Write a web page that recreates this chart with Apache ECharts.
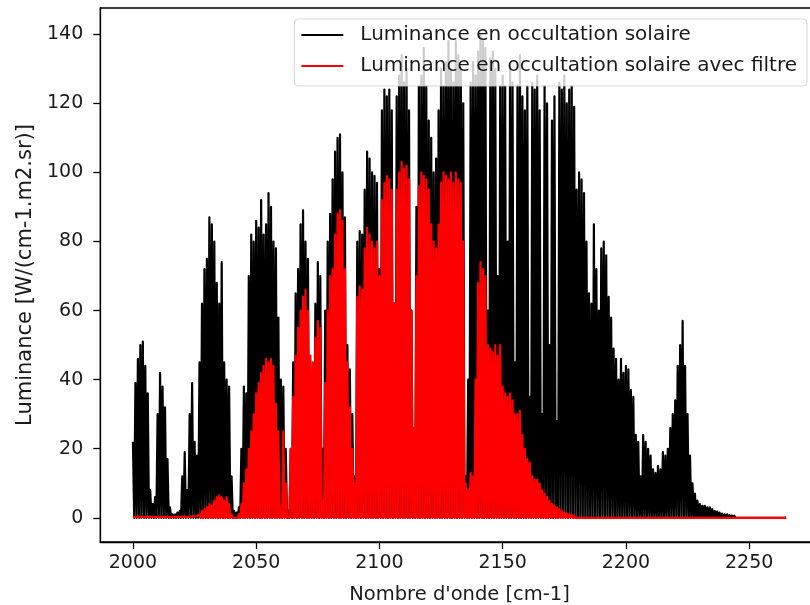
<!DOCTYPE html>
<html>
<head>
<meta charset="utf-8">
<title>Luminance en occultation solaire</title>
<script src="https://cdn.jsdelivr.net/npm/echarts@6/dist/echarts.min.js"></script>
<style>
  html, body { margin: 0; padding: 0; background: #ffffff; }
  #chart { width: 810px; height: 605px; }
</style>
</head>
<body>
<div id="chart"></div>
<script>
// Wavenumber grid: one line peak per cm-1, starting at 2000 cm-1
const startWavenumber = 2000;
// Level reached between two neighbouring lines (saturated line cores)
const lineFloor = 0;

// Peak luminance of the unfiltered spectrum, 2000 .. 2265 cm-1
const luminancePeaks = [
  22, 39, 46, 50, 51, 44, 36, 8, 4, 6,            // 2000
  30, 42, 38, 32, 17, 3, 1, 1, 1.5, 2,            // 2010
  12, 19, 8, 30, 39, 22, 18, 45, 62, 72,          // 2020
  75, 87, 85, 80, 68, 62, 74, 45, 40, 38,         // 2030
  12, 2, 1.5, 3, 20, 38, 36, 70, 82, 80,          // 2040
  86, 84, 92, 82, 85, 94, 90, 80, 78, 58,         // 2050
  40, 38, 20, 2, 20, 45, 65, 72, 85, 89,          // 2060
  80, 75, 44, 20, 62, 74, 70, 20, 60, 80,         // 2070
  88, 98, 106, 110, 111, 100, 87, 50, 43, 30,     // 2080
  12, 80, 83, 82, 95, 106, 104, 100, 99, 97,      // 2090
  72, 118, 124, 122, 124, 118, 62, 122, 128, 134, // 2100
  126, 130, 118, 60, 26, 90, 125, 128, 136, 125,  // 2110
  115, 110, 100, 104, 118, 130, 125, 132, 138, 130, // 2120
  126, 138, 134, 130, 120, 12, 40, 126, 132, 128, // 2130
  135, 140, 138, 136, 60, 133, 135, 130, 70, 125, // 2140
  128, 125, 80, 130, 126, 45, 125, 134, 122, 118, // 2150
  125, 35, 126, 124, 128, 118, 30, 125, 120, 50,  // 2160
  115, 122, 28, 126, 124, 128, 120, 124, 125, 119, // 2170
  95, 100, 98, 94, 80, 65, 62, 85, 72, 60,        // 2180
  78, 80, 76, 64, 58, 49, 46, 40, 46, 42,         // 2190
  44, 43, 37, 35, 24, 22, 12, 24, 22, 20,         // 2200
  18, 14, 13, 15, 14, 19, 18, 20, 26, 30,         // 2210
  34, 44, 50, 57, 44, 30, 18, 10, 7, 5,           // 2220
  4, 3.5, 3.5, 3, 3, 2.5, 2, 1.8, 1.5, 1.2,       // 2230
  1, 1, 0.8, 0.7, 0.6, 0.5, 0.5, 0.4, 0.3, 0.3,   // 2240
  0.2, 0.2, 0.2, 0.2, 0.2, 0.1, 0.1, 0.1, 0.1, 0.1, // 2250
  0.1, 0.1, 0.1, 0.1, 0.1, 0.1                    // 2260
];

// Peak luminance of the filtered spectrum, 2000 .. 2265 cm-1
const filteredPeaks = [
  0.3, 0.2, 0.3, 0.2, 0.3, 0.2, 0.3, 0.2, 0.3, 0.2, // 2000
  0.3, 0.2, 0.3, 0.2, 0.3, 0.2, 0.3, 0.2, 0.3, 0.3, // 2010
  0.3, 0.3, 0.3, 0.3, 0.4, 0.4, 0.5, 1, 2, 2.5,   // 2020
  3, 4, 3.5, 5, 6, 6.5, 6, 5, 6, 4,               // 2030
  1, 0.5, 0.3, 1, 4, 10, 14, 20, 25, 30,          // 2040
  36, 39, 42, 44, 46, 45, 46, 44, 33, 25,         // 2050
  3, 25, 10, 0.5, 20, 35, 47, 55, 60, 64,         // 2060
  66, 60, 47, 45, 52, 57, 55, 5, 39, 60,          // 2070
  70, 72, 82, 88, 89, 86, 72, 45, 32, 20,         // 2080
  10, 64, 67, 66, 78, 84, 82, 80, 78, 80,         // 2090
  70, 92, 97, 99, 98, 95, 62, 95, 100, 103,       // 2100
  101, 102, 98, 60, 26, 70, 96, 100, 99, 98,      // 2110
  95, 85, 80, 78, 85, 97, 100, 99, 98, 100,       // 2120
  97, 100, 98, 97, 80, 10, 8, 13, 12, 40,         // 2130
  68, 74, 72, 70, 50, 49, 48, 50, 47, 50,         // 2140
  38, 36, 35, 36, 34, 30, 30, 31, 24, 20,         // 2150
  17, 16, 12, 11, 11, 10, 8, 7, 6, 5,             // 2160
  4, 3.5, 3, 2.5, 2, 1.5, 1.2, 1, 0.8, 0.6,       // 2170
  0.5, 0.4, 0.4, 0.4, 0.4, 0.3, 0.3, 0.3, 0.3, 0.3, // 2180
  0.2, 0.2, 0.2, 0.2, 0.2, 0.2, 0.2, 0.2, 0.2, 0.2, // 2190
  0.2, 0.2, 0.2, 0.2, 0.2, 0.2, 0.2, 0.2, 0.2, 0.2, // 2200
  0.1, 0.1, 0.1, 0.1, 0.1, 0.1, 0.1, 0.1, 0.1, 0.1, // 2210
  0.1, 0.1, 0.1, 0.1, 0.1, 0.1, 0.1, 0.1, 0.1, 0.1, // 2220
  0.1, 0.1, 0.1, 0.1, 0.1, 0.1, 0.1, 0.1, 0.1, 0.1, // 2230
  0.1, 0.1, 0.1, 0.1, 0.1, 0.1, 0.1, 0.1, 0.1, 0.1, // 2240
  0.1, 0.1, 0.1, 0.1, 0.1, 0.1, 0.1, 0.1, 0.1, 0.1, // 2250
  0.1, 0.1, 0.1, 0.1, 0.1, 0.1                    // 2260
];

const xTicks = [2000, 2050, 2100, 2150, 2200, 2250];
const yTicks = [0, 20, 40, 60, 80, 100, 120, 140];

const seriesNames = [
  'Luminance en occultation solaire',
  'Luminance en occultation solaire avec filtre'
];

// Each peak is followed by the line floor half a wavenumber later
function lineSpectrum(peaks) {
  const pts = [];
  peaks.forEach((v, i) => {
    const wn = startWavenumber + i;
    pts.push([wn, v]);
    if (i < peaks.length - 1) pts.push([wn + 0.5, lineFloor]);
  });
  return pts;
}

const FONT = 'DejaVu Sans';
const TEXT = '#1a1a1a';

const chart = echarts.init(document.getElementById('chart'), null, { renderer: 'canvas' });

chart.setOption({
  animation: false,
  backgroundColor: '#ffffff',
  grid: {
    left: 100.3, top: 8, width: 718.5, height: 534,
    containLabel: false,
    outerBoundsMode: 'none',
    show: true, borderColor: '#000', borderWidth: 1.3, backgroundColor: 'transparent'
  },
  legend: {
    right: 3, top: 19,
    orient: 'vertical',
    icon: 'rect',
    itemWidth: 42, itemHeight: 2,
    itemGap: 11,
    padding: [6, 10, 10, 7],
    backgroundColor: 'rgba(255,255,255,0.8)',
    borderColor: 'rgba(204,204,204,0.8)',
    borderWidth: 1,
    borderRadius: 4,
    textStyle: { fontFamily: FONT, fontSize: 20, color: TEXT, lineHeight: 20, padding: [0, 0, 0, 12] },
    data: seriesNames
  },
  xAxis: {
    type: 'value',
    min: 1986.75, max: 2278.25,
    name: "Nombre d'onde [cm-1]",
    nameLocation: 'middle',
    nameGap: 43,
    nameTextStyle: { fontFamily: FONT, fontSize: 19.5, color: TEXT },
    axisLine: { show: true, onZero: false, lineStyle: { color: '#000', width: 1.3 } },
    axisTick: { show: true, length: 7, lineStyle: { color: '#000', width: 1.3 }, customValues: xTicks },
    axisLabel: { fontFamily: FONT, fontSize: 19, color: TEXT, margin: 12, customValues: xTicks,
                 formatter: v => String(v) },
    splitLine: { show: false }
  },
  yAxis: {
    type: 'value',
    min: -7.0, max: 147.6,
    name: 'Luminance [W/(cm-1.m2.sr)]',
    nameLocation: 'middle',
    nameGap: 58,
    nameTextStyle: { fontFamily: FONT, fontSize: 21, color: TEXT },
    axisLine: { show: true, onZero: false, lineStyle: { color: '#000', width: 1.3 } },
    axisTick: { show: true, length: 7, lineStyle: { color: '#000', width: 1.3 }, customValues: yTicks },
    axisLabel: { fontFamily: FONT, fontSize: 19, color: TEXT, margin: 17, customValues: yTicks,
                 formatter: v => String(v) },
    splitLine: { show: false }
  },
  series: [
    {
      name: seriesNames[0],
      type: 'line',
      data: lineSpectrum(luminancePeaks),
      showSymbol: false, symbol: 'none',
      sampling: null,
      lineStyle: { color: '#000000', width: 2.2, join: 'round' },
      itemStyle: { color: '#000000' },
      z: 2
    },
    {
      name: seriesNames[1],
      type: 'line',
      data: lineSpectrum(filteredPeaks),
      showSymbol: false, symbol: 'none',
      sampling: null,
      lineStyle: { color: '#ff0000', width: 2.2, join: 'round' },
      itemStyle: { color: '#ff0000' },
      z: 3
    }
  ]
});
</script>
</body>
</html>
